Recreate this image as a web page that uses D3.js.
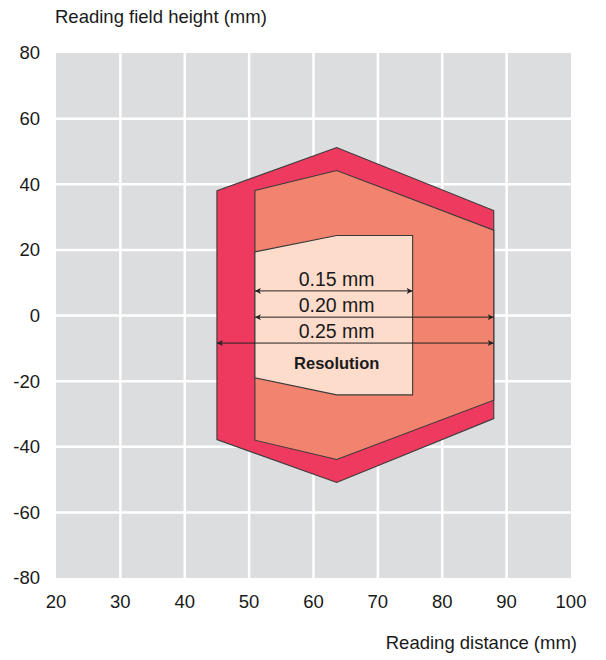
<!DOCTYPE html>
<html>
<head>
<meta charset="utf-8">
<script src="https://cdn.jsdelivr.net/npm/d3@7"></script>
<style>
  body { margin: 0; background: #fff; }
  text { font-family: "Liberation Sans", Arial, sans-serif; fill: #1a1a1a; }
</style>
</head>
<body>
<div id="chart"></div>
<script>
// field outlines (reading distance mm, field height mm)
var outerX = [45, 63.6, 88, 88, 63.6, 45];
var outerY = [38, 51.2, 32, -31.4, -50.9, -37.8];
var midX = [50.9, 63.6, 88, 88, 63.6, 50.9];
var midY = [38.1, 44.2, 26, -25.8, -43.9, -38];
var innerX = [50.9, 63.6, 75.4, 75.4, 63.6, 50.9];
var innerY = [19.4, 24.4, 24.4, -24.2, -24.2, -19];

// resolution arrows
var arrowLabels = ["0.15 mm", "0.20 mm", "0.25 mm"];
var arrowY = [7.5, -0.5, -8.4];
var arrowX0 = [50.9, 50.9, 45];
var arrowX1 = [75.4, 88, 88];

var xTicks = [20, 30, 40, 50, 60, 70, 80, 90, 100];
var yTicks = [80, 60, 40, 20, 0, -20, -40, -60, -80];

var svgWidth = 606, svgHeight = 660;
var margin = {top: 53, right: 35, bottom: 82, left: 56};

var svg = d3.select("#chart").append("svg")
  .attr("width", svgWidth)
  .attr("height", svgHeight);

var x = d3.scaleLinear().domain([20, 100]).range([margin.left, svgWidth - margin.right]);
var y = d3.scaleLinear().domain([-80, 80]).range([svgHeight - margin.bottom, margin.top]);

svg.append("rect")
  .attr("x", x(20)).attr("y", y(80))
  .attr("width", x(100) - x(20)).attr("height", y(-80) - y(80))
  .attr("fill", "#dcdddf");

// grid
svg.selectAll(".vgrid").data(xTicks.slice(1, -1)).enter().append("line")
  .attr("x1", d => x(d)).attr("x2", d => x(d))
  .attr("y1", y(80)).attr("y2", y(-80))
  .attr("stroke", "#fff").attr("stroke-width", 2.5);
svg.selectAll(".hgrid").data(yTicks.slice(1, -1)).enter().append("line")
  .attr("y1", d => y(d)).attr("y2", d => y(d))
  .attr("x1", x(20)).attr("x2", x(100))
  .attr("stroke", "#fff").attr("stroke-width", 2.5);

function poly(xs, ys, fill) {
  var pts = xs.map((v, i) => [x(v), y(ys[i])]);
  svg.append("path")
    .attr("d", d3.line()(pts) + "Z")
    .attr("fill", fill)
    .attr("stroke", "#3a3a3a")
    .attr("stroke-width", 1.1)
    .attr("stroke-linejoin", "miter");
}
poly(outerX, outerY, "#ee3a5f");
poly(midX, midY, "#f2846f");
poly(innerX, innerY, "#fddccb");

// arrowheads
var defs = svg.append("defs");
defs.append("marker")
  .attr("id", "ah")
  .attr("viewBox", "0 0 10 10")
  .attr("refX", 10).attr("refY", 5)
  .attr("markerWidth", 10).attr("markerHeight", 6)
  .attr("markerUnits", "userSpaceOnUse")
  .attr("orient", "auto-start-reverse")
  .append("path").attr("d", "M0,0 L10,5 L0,10 L2.5,5 Z").attr("fill", "#222");

arrowLabels.forEach(function(lab, i) {
  svg.append("line")
    .attr("x1", x(arrowX0[i])).attr("x2", x(arrowX1[i]))
    .attr("y1", y(arrowY[i])).attr("y2", y(arrowY[i]))
    .attr("stroke", "#222").attr("stroke-width", 1)
    .attr("marker-start", "url(#ah)")
    .attr("marker-end", "url(#ah)");
  svg.append("text")
    .attr("x", x(63.6)).attr("y", y(arrowY[i]) - 5)
    .attr("text-anchor", "middle")
    .attr("font-size", 19.5)
    .text(lab);
});

svg.append("text")
  .attr("x", x(63.6)).attr("y", y(arrowY[2]) + 26)
  .attr("text-anchor", "middle")
  .attr("font-size", 16.5).attr("font-weight", "bold")
  .text("Resolution");

// axis labels
svg.selectAll(".ylab").data(yTicks).enter().append("text")
  .attr("x", 40).attr("y", d => y(d))
  .attr("dy", "0.35em")
  .attr("text-anchor", "end")
  .attr("font-size", 18.5)
  .text(d => d);

svg.selectAll(".xlab").data(xTicks).enter().append("text")
  .attr("x", d => x(d)).attr("y", 608)
  .attr("text-anchor", "middle")
  .attr("font-size", 18.5)
  .text(d => d);

svg.append("text")
  .attr("x", 55).attr("y", 23)
  .attr("font-size", 18.5)
  .text("Reading field height (mm)");

svg.append("text")
  .attr("x", 577).attr("y", 649)
  .attr("text-anchor", "end")
  .attr("font-size", 18.5)
  .text("Reading distance (mm)");
</script>
</body>
</html>
